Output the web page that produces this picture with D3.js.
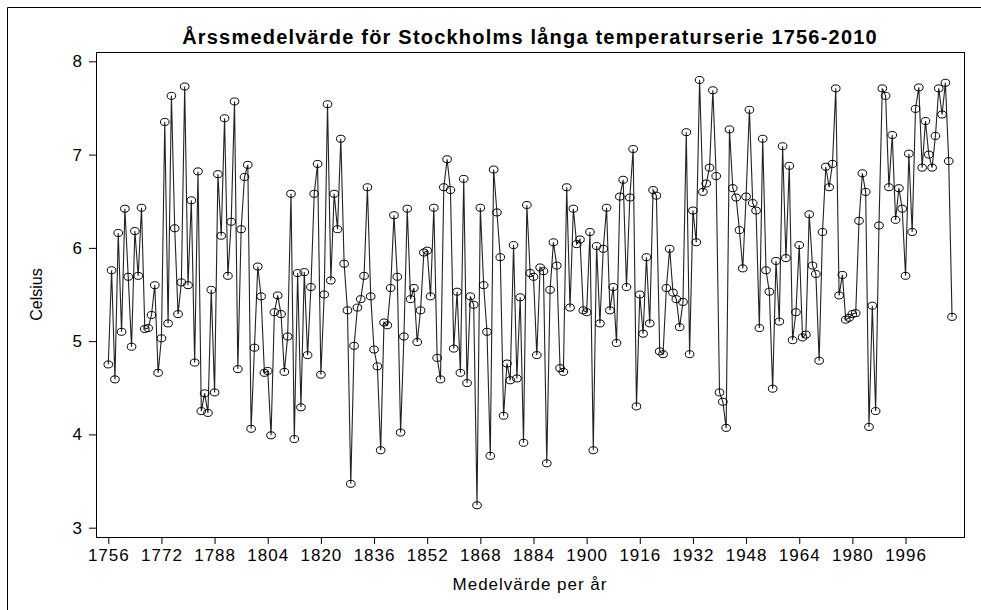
<!DOCTYPE html>
<html>
<head>
<meta charset="utf-8">
<script src="https://cdn.jsdelivr.net/npm/d3@7/dist/d3.min.js"></script>
<style>
  html, body { margin: 0; padding: 0; background: #fff; }
  svg { display: block; }
  text { font-family: "Liberation Sans", Arial, sans-serif; fill: #000; }
</style>
</head>
<body>
<div id="chart"></div>
<script>
// Annual mean temperature, Stockholm 1756–2010 (°C)
const firstYear = 1756;
const lastYear = 2010;
const temps = [
  // 1756–1772
  4.75, 5.76, 4.59, 6.16, 5.10, 6.42, 5.69, 4.94, 6.18, 5.70, 6.43, 5.13, 5.14, 5.28, 5.60, 4.66, 5.03,
  // 1773–1788
  7.35, 5.19, 7.63, 6.21, 5.29, 5.63, 7.73, 5.60, 6.51, 4.77, 6.82, 4.25, 4.44, 4.23, 5.55, 4.45,
  // 1789–1804
  6.79, 6.13, 7.39, 5.70, 6.28, 7.57, 4.70, 6.20, 6.76, 6.89, 4.06, 4.93, 5.80, 5.48, 4.66, 4.68,
  // 1805–1820
  3.99, 5.31, 5.49, 5.29, 4.67, 5.05, 6.58, 3.95, 5.73, 4.29, 5.74, 4.85, 5.58, 6.58, 6.90, 4.64,
  // 1821–1836
  5.50, 7.54, 5.65, 6.58, 6.20, 7.17, 5.83, 5.33, 3.47, 4.95, 5.36, 5.45, 5.70, 6.65, 5.48, 4.91,
  // 1837–1852
  4.73, 3.83, 5.20, 5.17, 5.57, 6.35, 5.69, 4.02, 5.05, 6.42, 5.45, 5.57, 4.99, 5.33, 5.95, 5.97,
  // 1853–1868
  5.48, 6.43, 4.82, 4.59, 6.65, 6.95, 6.62, 4.92, 5.53, 4.66, 6.74, 4.55, 5.48, 5.39, 3.24, 6.43,
  // 1869–1884
  5.60, 5.10, 3.77, 6.84, 6.38, 5.90, 4.20, 4.76, 4.58, 6.03, 4.60, 5.47, 3.91, 6.46, 5.73, 5.69,
  // 1885–1900
  4.85, 5.79, 5.75, 3.69, 5.55, 6.06, 5.81, 4.71, 4.67, 6.65, 5.36, 6.42, 6.04, 6.09, 5.33, 5.31,
  // 1901–1916
  6.17, 3.83, 6.02, 5.19, 5.99, 6.43, 5.33, 5.58, 4.98, 6.55, 6.73, 5.58, 6.54, 7.06, 4.30, 5.50,
  // 1917–1932
  5.08, 5.90, 5.19, 6.62, 6.56, 4.89, 4.86, 5.57, 5.99, 5.52, 5.45, 5.15, 5.42, 7.24, 4.86, 6.40,
  // 1933–1948
  6.06, 7.80, 6.60, 6.69, 6.86, 7.69, 6.77, 4.45, 4.35, 4.07, 7.27, 6.64, 6.54, 6.19, 5.78, 6.55,
  // 1949–1964
  7.48, 6.48, 6.40, 5.14, 7.17, 5.76, 5.53, 4.49, 5.86, 5.21, 7.09, 5.89, 6.88, 5.01, 5.31, 6.03,
  // 1965–1980
  5.04, 5.07, 6.36, 5.81, 5.72, 4.79, 6.17, 6.87, 6.65, 6.90, 7.71, 5.49, 5.71, 5.23, 5.25, 5.29,
  // 1981–1996
  5.30, 6.29, 6.80, 6.60, 4.08, 5.38, 4.25, 6.24, 7.71, 7.63, 6.65, 7.21, 6.30, 6.64, 6.42, 5.70,
  // 1997–2010
  7.01, 6.17, 7.49, 7.72, 6.86, 7.36, 7.00, 6.86, 7.20, 7.71, 7.43, 7.77, 6.93, 5.26
];
const years = d3.range(firstYear, lastYear + 1);
const xTicks = d3.range(1756, 2000, 16);   // 1756, 1772, ..., 1996
const yTicks = [3, 4, 5, 6, 7, 8];

const titleText = "Årssmedelvärde för Stockholms långa temperaturserie 1756-2010";
const xLabel = "Medelvärde per år";
const yLabel = "Celsius";

const W = 981, H = 610;
const plot = { left: 96, right: 964, top: 52, bottom: 537 };

const svg = d3.select("#chart").append("svg")
  .attr("width", W).attr("height", H);

// outer frame of the graph
svg.append("path")
  .attr("d", `M7.5,${H} V7.5 H${W}`)
  .attr("fill", "none").attr("stroke", "#000").attr("stroke-width", 1);

const x = d3.scaleLinear().domain([1752.3, 2013.6]).range([plot.left, plot.right]);
const y = d3.scaleLinear().domain([2.9, 8.1]).range([plot.bottom, plot.top]);

const data = years.map((yr, i) => ({ year: yr, t: temps[i] }));

// axes
const xAxis = d3.axisBottom(x).tickValues(xTicks).tickFormat(d3.format("d"))
  .tickSize(7).tickSizeOuter(0).tickPadding(5);
const yAxis = d3.axisLeft(y).tickValues(yTicks).tickFormat(d3.format("d"))
  .tickSize(7).tickSizeOuter(0).tickPadding(6);

const gx = svg.append("g").attr("transform", `translate(0,${plot.bottom})`).call(xAxis);
const gy = svg.append("g").attr("transform", `translate(${plot.left},0)`).call(yAxis);
[gx, gy].forEach(g => {
  g.select(".domain").remove();
  g.selectAll(".tick line").attr("stroke", "#000");
  g.selectAll(".tick text").attr("font-size", 17).attr("letter-spacing", 1)
    .attr("font-family", "'Liberation Sans', Arial, sans-serif").attr("fill", "#000");
});

// plot frame
svg.append("rect")
  .attr("x", plot.left + 0.5).attr("y", plot.top + 0.5)
  .attr("width", plot.right - plot.left).attr("height", plot.bottom - plot.top)
  .attr("fill", "none").attr("stroke", "#000").attr("stroke-width", 1);

// series line
const line = d3.line().x(d => x(d.year)).y(d => y(d.t));
svg.append("path").datum(data)
  .attr("d", line)
  .attr("fill", "none").attr("stroke", "#222").attr("stroke-width", 1.1);

// hollow markers
svg.append("g").selectAll("ellipse").data(data).join("ellipse")
  .attr("cx", d => x(d.year)).attr("cy", d => y(d.t))
  .attr("rx", 4.3).attr("ry", 3.5)
  .attr("fill", "none").attr("stroke", "#000").attr("stroke-width", 1);

// title and axis labels
svg.append("text")
  .attr("x", (plot.left + plot.right) / 2).attr("y", 44)
  .attr("text-anchor", "middle").attr("font-size", 20).attr("font-weight", "bold")
  .attr("letter-spacing", 1.2)
  .text(titleText);

svg.append("text")
  .attr("x", (plot.left + plot.right) / 2).attr("y", 590)
  .attr("text-anchor", "middle").attr("font-size", 17).attr("letter-spacing", 1)
  .text(xLabel);

svg.append("text")
  .attr("transform", `translate(42,${(plot.top + plot.bottom) / 2}) rotate(-90)`)
  .attr("text-anchor", "middle").attr("font-size", 16)
  .text(yLabel);
</script>
</body>
</html>
